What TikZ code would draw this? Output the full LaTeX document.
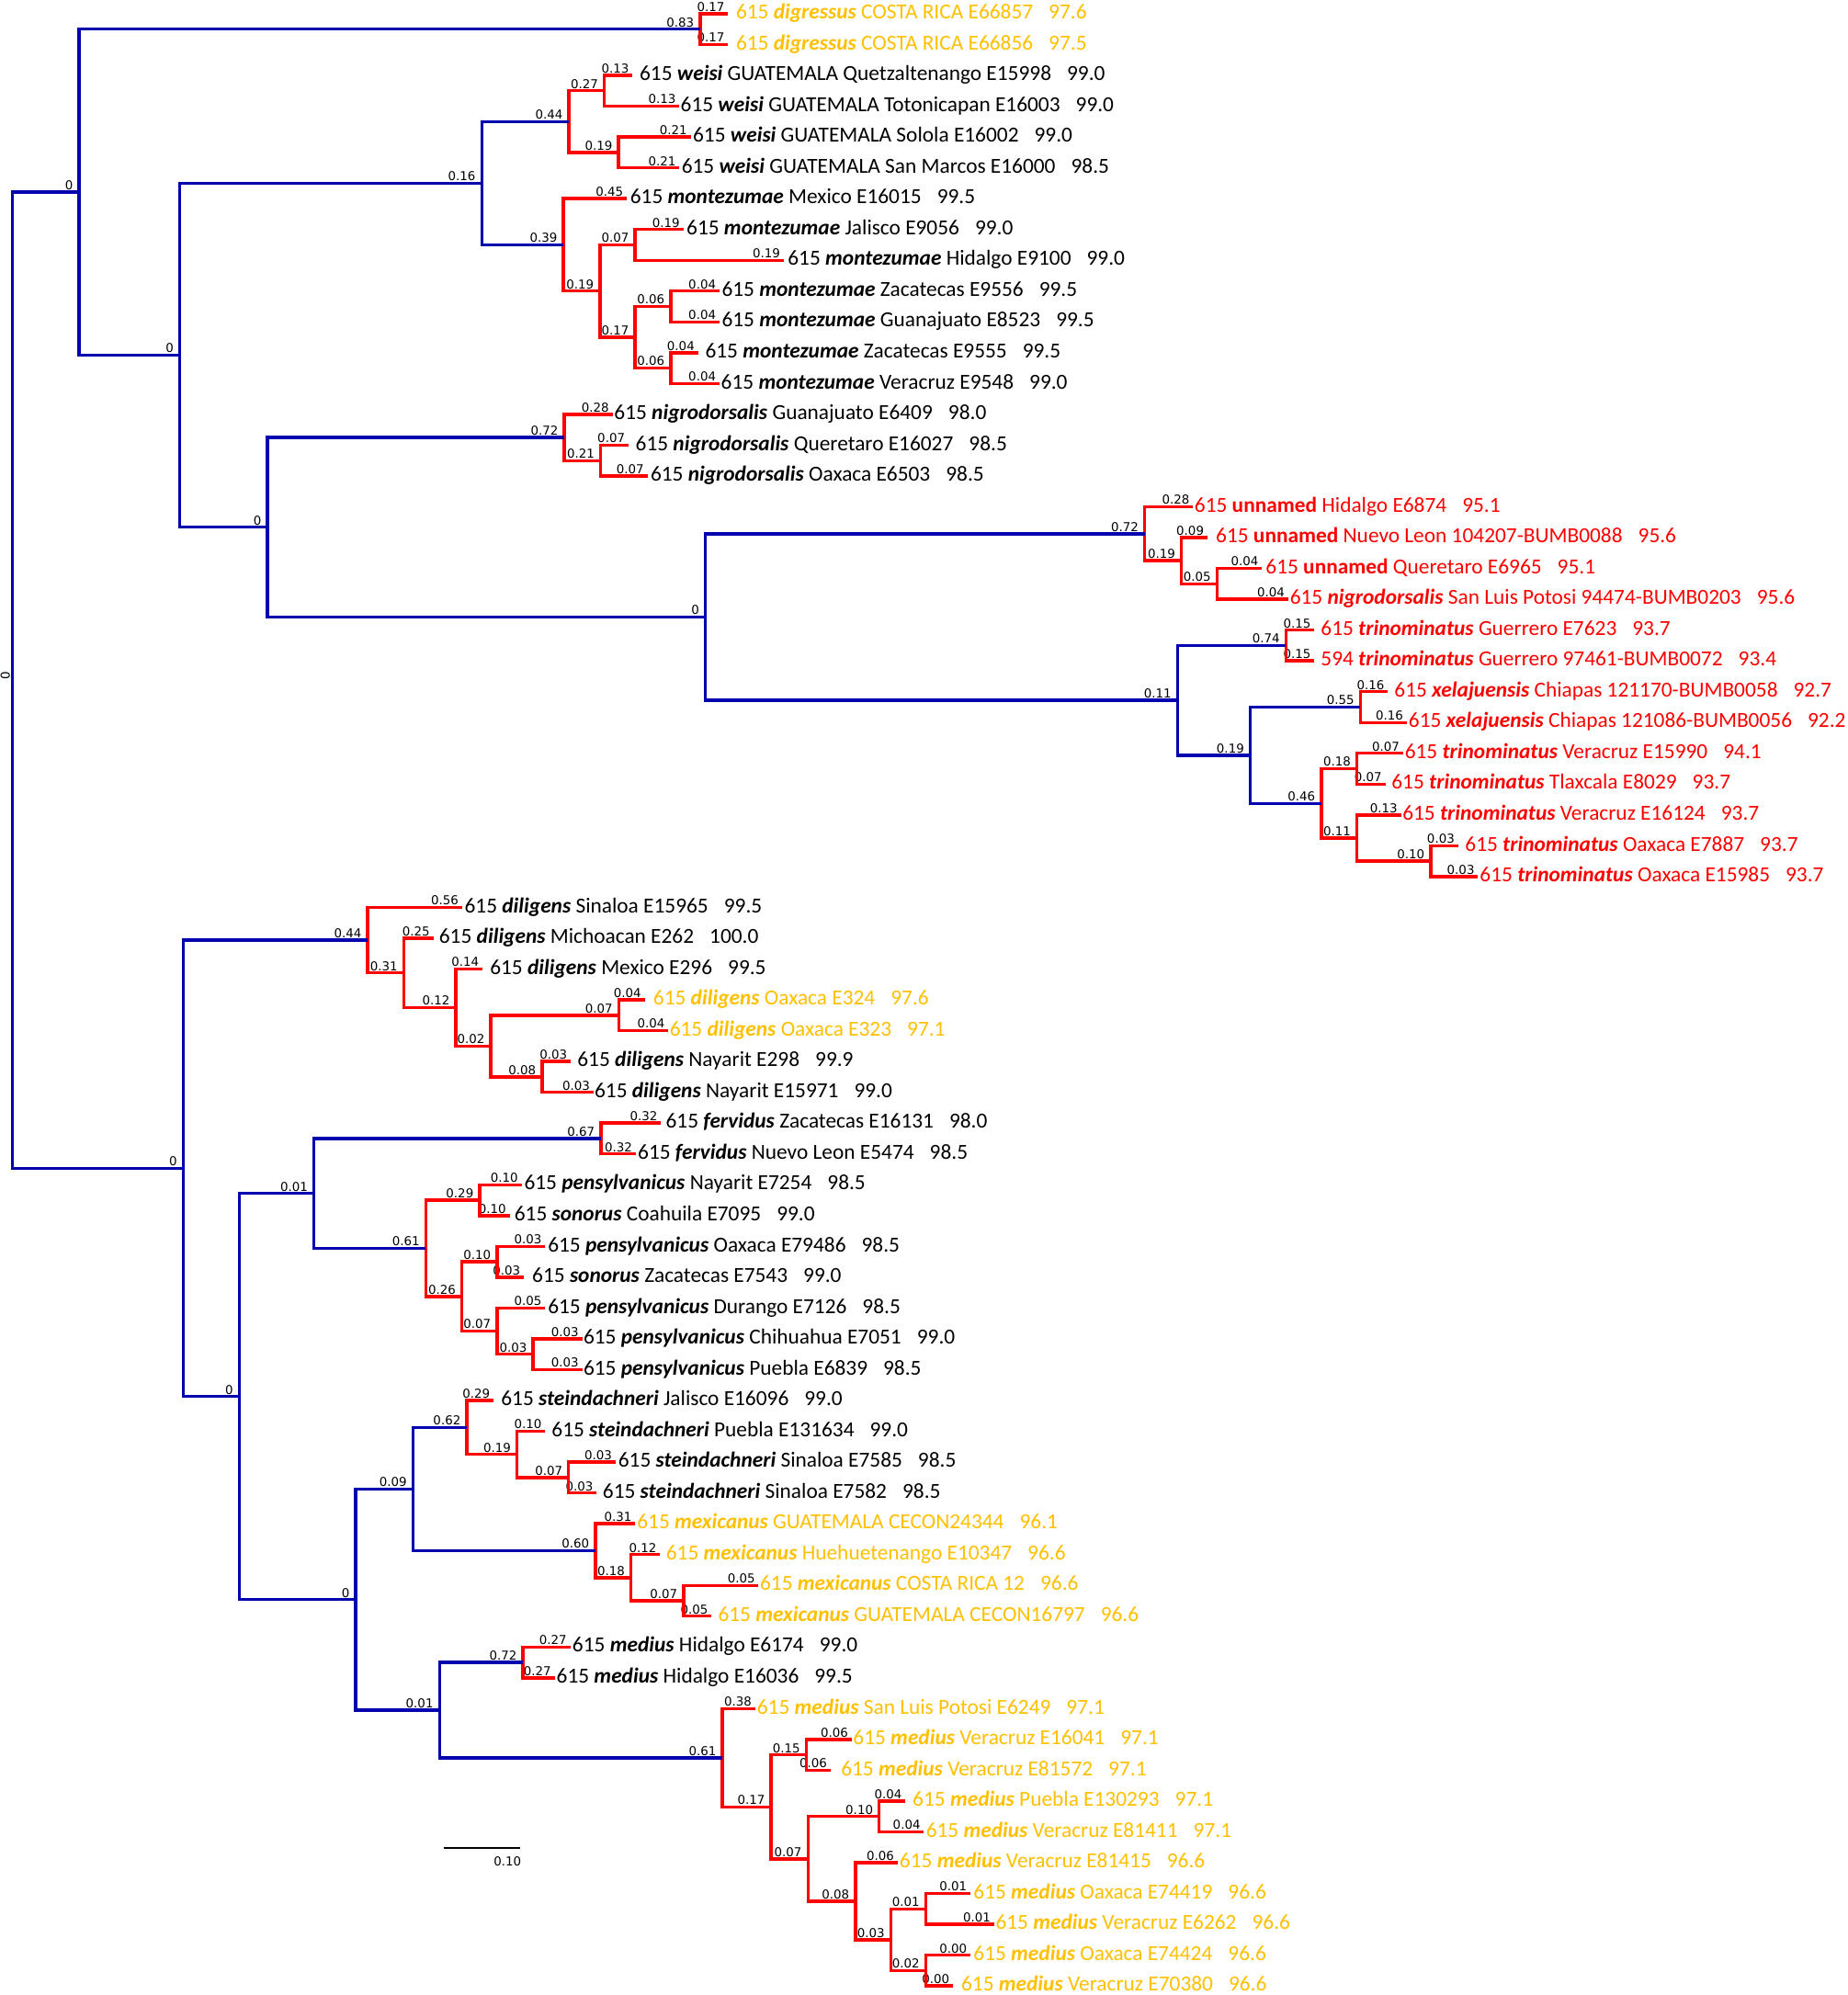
\documentclass[tikz,border=0pt]{standalone}
\usepackage{fontspec}
\setmainfont{Carlito}
\newfontfamily\labfont{DejaVu Sans}
\usetikzlibrary{calc}
\definecolor{tblue}{RGB}{0,0,175}
\definecolor{tred}{RGB}{255,0,0}
\definecolor{torange}{RGB}{255,192,0}
\newcommand\spx[1]{\textbf{\textit{#1}}}
\newcommand\leafnode[7]{%
  \pgfmathsetmacro\leafy{10.8+(#1-1)*24.22}
  \coordinate (L#1) at (#2,\leafy);
  \node[leaftxt,text=#5] (T#1) at (#3,{\leafy+4.1}) {#6\hspace{7pt}#7};
  \node[blab] (BL#1) at ({#2-2.5},{\leafy-1.4}) {#4};
}
\newcommand\innode[6]{%
  \path ($(#3)!0.5!(#4)$) coordinate (tmpm);
  \path (#2,0) coordinate (tmpx);
  \coordinate (#1) at (tmpx |- tmpm);
  \draw[br,#5] (#3) -- (#3 -| #1) -- (#4 -| #1) -- (#4);
  \node[blab] (lab#1) at ($(#1)+(-4.5,-1.4)$) {#6};
}
\begin{document}
\begin{tikzpicture}[x=0.02cm,y=-0.02cm,
  br/.style={line width=1.4pt, line join=miter, line cap=butt},
  blab/.style={font=\labfont\fontsize{5.5}{6}\selectfont, inner sep=0pt, anchor=south east, text=black},
  leaftxt/.style={font=\fontsize{9.6}{11}\selectfont, inner sep=0pt, anchor=base west}]
\useasboundingbox (0,0) rectangle (1452,1568);
\fill[white] (0,0) rectangle (1452,1568);

\leafnode{1}{572.3}{578.2}{0.17}{torange}{615 \spx{digressus} COSTA RICA E66857}{97.6}
\leafnode{2}{572.3}{578.2}{0.17}{torange}{615 \spx{digressus} COSTA RICA E66856}{97.5}
\leafnode{3}{497.1}{502.4}{0.13}{black}{615 \spx{weisi} GUATEMALA Quetzaltenango E15998}{99.0}
\leafnode{4}{534}{534.6}{0.13}{black}{615 \spx{weisi} GUATEMALA Totonicapan E16003}{99.0}
\leafnode{5}{542.8}{544.3}{0.21}{black}{615 \spx{weisi} GUATEMALA Solola E16002}{99.0}
\leafnode{6}{534}{535.4}{0.21}{black}{615 \spx{weisi} GUATEMALA San Marcos E16000}{98.5}
\leafnode{7}{492.7}{495}{0.45}{black}{615 \spx{montezumae} Mexico E16015}{99.5}
\leafnode{8}{537}{539.3}{0.19}{black}{615 \spx{montezumae} Jalisco E9056}{99.0}
\leafnode{9}{616}{618.9}{0.19}{black}{615 \spx{montezumae} Hidalgo E9100}{99.0}
\leafnode{10}{565.5}{567}{0.04}{black}{615 \spx{montezumae} Zacatecas E9556}{99.5}
\leafnode{11}{565.5}{567}{0.04}{black}{615 \spx{montezumae} Guanajuato E8523}{99.5}
\leafnode{12}{548.7}{554}{0.04}{black}{615 \spx{montezumae} Zacatecas E9555}{99.5}
\leafnode{13}{565.5}{566.4}{0.04}{black}{615 \spx{montezumae} Veracruz E9548}{99.0}
\leafnode{14}{481.5}{482.4}{0.28}{black}{615 \spx{nigrodorsalis} Guanajuato E6409}{98.0}
\leafnode{15}{494}{499.2}{0.07}{black}{615 \spx{nigrodorsalis} Queretaro E16027}{98.5}
\leafnode{16}{508.9}{511}{0.07}{black}{615 \spx{nigrodorsalis} Oaxaca E6503}{98.5}
\leafnode{17}{937.8}{938.5}{0.28}{tred}{615 \textbf{unnamed} Hidalgo E6874}{95.1}
\leafnode{18}{949}{955.3}{0.09}{tred}{615 \textbf{unnamed} Nuevo Leon 104207-BUMB0088}{95.6}
\leafnode{19}{991.9}{994.5}{0.04}{tred}{615 \textbf{unnamed} Queretaro E6965}{95.1}
\leafnode{20}{1012.4}{1013.5}{0.04}{tred}{615 \spx{nigrodorsalis} San Luis Potosi 94474-BUMB0203}{95.6}
\leafnode{21}{1033}{1037.8}{0.15}{tred}{615 \spx{trinominatus} Guerrero E7623}{93.7}
\leafnode{22}{1033}{1037.8}{0.15}{tred}{594 \spx{trinominatus} Guerrero 97461-BUMB0072}{93.4}
\leafnode{23}{1090.8}{1095.6}{0.16}{tred}{615 \spx{xelajuensis} Chiapas 121170-BUMB0058}{92.7}
\leafnode{24}{1105.7}{1106.8}{0.16}{tred}{615 \spx{xelajuensis} Chiapas 121086-BUMB0056}{92.2}
\leafnode{25}{1102.7}{1103.8}{0.07}{tred}{615 \spx{trinominatus} Veracruz E15990}{94.1}
\leafnode{26}{1088.9}{1093.4}{0.07}{tred}{615 \spx{trinominatus} Tlaxcala E8029}{93.7}
\leafnode{27}{1101.2}{1102}{0.13}{tred}{615 \spx{trinominatus} Veracruz E16124}{93.7}
\leafnode{28}{1146}{1151.2}{0.03}{tred}{615 \spx{trinominatus} Oaxaca E7887}{93.7}
\leafnode{29}{1161.7}{1162.8}{0.03}{tred}{615 \spx{trinominatus} Oaxaca E15985}{93.7}
\leafnode{30}{363.2}{364.8}{0.56}{black}{615 \spx{diligens} Sinaloa E15965}{99.5}
\leafnode{31}{340.6}{344.8}{0.25}{black}{615 \spx{diligens} Michoacan E262}{100.0}
\leafnode{32}{379.3}{384.8}{0.14}{black}{615 \spx{diligens} Mexico E296}{99.5}
\leafnode{33}{506.7}{513.1}{0.04}{torange}{615 \spx{diligens} Oaxaca E324}{97.6}
\leafnode{34}{525.4}{526}{0.04}{torange}{615 \spx{diligens} Oaxaca E323}{97.1}
\leafnode{35}{448.6}{453.5}{0.03}{black}{615 \spx{diligens} Nayarit E298}{99.9}
\leafnode{36}{466.4}{467}{0.03}{black}{615 \spx{diligens} Nayarit E15971}{99.0}
\leafnode{37}{519.6}{523}{0.32}{black}{615 \spx{fervidus} Zacatecas E16131}{98.0}
\leafnode{38}{499.6}{501}{0.32}{black}{615 \spx{fervidus} Nuevo Leon E5474}{98.5}
\leafnode{39}{410}{411.7}{0.10}{black}{615 \spx{pensylvanicus} Nayarit E7254}{98.5}
\leafnode{40}{400.5}{404}{0.10}{black}{615 \spx{sonorus} Coahuila E7095}{99.0}
\leafnode{41}{428.5}{430.3}{0.03}{black}{615 \spx{pensylvanicus} Oaxaca E79486}{98.5}
\leafnode{42}{411.7}{418}{0.03}{black}{615 \spx{sonorus} Zacatecas E7543}{99.0}
\leafnode{43}{428.5}{430.3}{0.05}{black}{615 \spx{pensylvanicus} Durango E7126}{98.5}
\leafnode{44}{457.6}{458.3}{0.03}{black}{615 \spx{pensylvanicus} Chihuahua E7051}{99.0}
\leafnode{45}{457.6}{458.3}{0.03}{black}{615 \spx{pensylvanicus} Puebla E6839}{98.5}
\leafnode{46}{387.9}{393.5}{0.29}{black}{615 \spx{steindachneri} Jalisco E16096}{99.0}
\leafnode{47}{428.5}{433.3}{0.10}{black}{615 \spx{steindachneri} Puebla E131634}{99.0}
\leafnode{48}{483.8}{485.6}{0.03}{black}{615 \spx{steindachneri} Sinaloa E7585}{98.5}
\leafnode{49}{469}{473.4}{0.03}{black}{615 \spx{steindachneri} Sinaloa E7582}{98.5}
\leafnode{50}{499.3}{500.4}{0.31}{torange}{615 \spx{mexicanus} GUATEMALA CECON24344}{96.1}
\leafnode{51}{518.8}{523.2}{0.12}{torange}{615 \spx{mexicanus} Huehuetenango E10347}{96.6}
\leafnode{52}{596.2}{597}{0.05}{torange}{615 \spx{mexicanus} COSTA RICA 12}{96.6}
\leafnode{53}{559.3}{564.1}{0.05}{torange}{615 \spx{mexicanus} GUATEMALA CECON16797}{96.6}
\leafnode{54}{448.3}{449.6}{0.27}{black}{615 \spx{medius} Hidalgo E6174}{99.0}
\leafnode{55}{435.9}{437.1}{0.27}{black}{615 \spx{medius} Hidalgo E16036}{99.5}
\leafnode{56}{593.5}{594.7}{0.38}{torange}{615 \spx{medius} San Luis Potosi E6249}{97.1}
\leafnode{57}{669.4}{670.2}{0.06}{torange}{615 \spx{medius} Veracruz E16041}{97.1}
\leafnode{58}{652.8}{660.7}{0.06}{torange}{615 \spx{medius} Veracruz E81572}{97.1}
\leafnode{59}{711.7}{717}{0.04}{torange}{615 \spx{medius} Puebla E130293}{97.1}
\leafnode{60}{726.2}{727.5}{0.04}{torange}{615 \spx{medius} Veracruz E81411}{97.1}
\leafnode{61}{705.5}{706.7}{0.06}{torange}{615 \spx{medius} Veracruz E81415}{96.6}
\leafnode{62}{762.7}{764.8}{0.01}{torange}{615 \spx{medius} Oaxaca E74419}{96.6}
\leafnode{63}{781.4}{782.2}{0.01}{torange}{615 \spx{medius} Veracruz E6262}{96.6}
\leafnode{64}{762.7}{764.8}{0.00}{torange}{615 \spx{medius} Oaxaca E74424}{96.6}
\leafnode{65}{749}{755.2}{0.00}{torange}{615 \spx{medius} Veracruz E70380}{96.6}

\innode{Dig}{550.2}{L1}{L2}{tred}{0.83}
\innode{W1}{475.0}{L3}{L4}{tred}{0.27}
\innode{W2}{486.2}{L5}{L6}{tred}{0.19}
\innode{W}{447.1}{W1}{W2}{tred}{0.44}
\innode{M2}{499.2}{L8}{L9}{tred}{0.07}
\innode{M4}{527.2}{L10}{L11}{tred}{0.06}
\innode{M5}{527.2}{L12}{L13}{tred}{0.06}
\innode{M3}{499.2}{M4}{M5}{tred}{0.17}
\innode{M1}{471.5}{M2}{M3}{tred}{0.19}
\innode{M}{442.8}{L7}{M1}{tred}{0.39}
\innode{WM}{378.6}{W}{M}{tblue}{0.16}
\innode{Nn1}{472.1}{L15}{L16}{tred}{0.21}
\innode{Nn}{443.5}{L14}{Nn1}{tred}{0.72}
\innode{U2}{956.5}{L19}{L20}{tred}{0.05}
\innode{U1}{928.5}{L18}{U2}{tred}{0.19}
\innode{U}{899.7}{L17}{U1}{tred}{0.72}
\innode{T1}{1010.6}{L21}{L22}{tred}{0.74}
\innode{T3}{1069.1}{L23}{L24}{tred}{0.55}
\innode{T5}{1066.5}{L25}{L26}{tred}{0.18}
\innode{T7}{1124.4}{L28}{L29}{tred}{0.10}
\innode{T6}{1066.5}{L27}{T7}{tred}{0.11}
\innode{T4}{1038.5}{T5}{T6}{tred}{0.46}
\innode{T2}{982.6}{T3}{T4}{tblue}{0.19}
\innode{T}{925.5}{T1}{T2}{tblue}{0.11}
\innode{X}{554.4}{U}{T}{tblue}{0}
\innode{NB}{210.2}{Nn}{X}{tblue}{0}
\innode{N3}{141.2}{WM}{NB}{tblue}{0}
\innode{N1}{62.1}{Dig}{N3}{tblue}{0}
\innode{D5}{426}{L35}{L36}{tred}{0.08}
\innode{D4}{486.4}{L33}{L34}{tred}{0.07}
\innode{D3}{385.8}{D4}{D5}{tred}{0.02}
\innode{D2}{358.3}{L32}{D3}{tred}{0.12}
\innode{D1}{317.4}{L31}{D2}{tred}{0.31}
\innode{D}{289}{L30}{D1}{tred}{0.44}
\innode{F1}{472.3}{L37}{L38}{tred}{0.67}
\innode{P1}{377}{L39}{L40}{tred}{0.29}
\innode{P3}{390.7}{L41}{L42}{tred}{0.10}
\innode{P5}{419}{L44}{L45}{tred}{0.03}
\innode{P4}{390.7}{L43}{P5}{tred}{0.07}
\innode{P2}{363}{P3}{P4}{tred}{0.26}
\innode{P}{334.7}{P1}{P2}{tred}{0.61}
\innode{F}{246.7}{F1}{P}{tblue}{0.01}
\innode{S2}{446.9}{L48}{L49}{tred}{0.07}
\innode{S1}{406.4}{L47}{S2}{tred}{0.19}
\innode{S}{366.9}{L46}{S1}{tred}{0.62}
\innode{X4}{537.2}{L52}{L53}{tred}{0.07}
\innode{X3}{495.9}{L51}{X4}{tred}{0.18}
\innode{X2}{467.9}{L50}{X3}{tred}{0.60}
\innode{SM}{324.5}{S}{X2}{tblue}{0.09}
\innode{Hm}{411}{L54}{L55}{tred}{0.72}
\innode{Me8}{727.5}{L64}{L65}{tred}{0.02}
\innode{Me7}{727.5}{L62}{L63}{tred}{0.01}
\innode{Me6}{700.1}{Me7}{Me8}{tred}{0.03}
\innode{Me5}{672.3}{L61}{Me6}{tred}{0.08}
\innode{Me4}{691}{L59}{L60}{tred}{0.10}
\innode{Me3}{635}{Me4}{Me5}{tred}{0.07}
\innode{Me2}{633.7}{L57}{L58}{tred}{0.15}
\innode{Me1}{606}{Me2}{Me3}{tred}{0.17}
\innode{Me}{567.8}{L56}{Me1}{tred}{0.61}
\innode{MM}{345.4}{Hm}{Me}{tblue}{0.01}
\innode{B2}{279.5}{SM}{MM}{tblue}{0}
\innode{B1}{188}{F}{B2}{tblue}{0}
\innode{N2}{144}{D}{B1}{tblue}{0}

% root
\path ($(N1)!0.5!(N2)$) coordinate (tmpm);
\path (9.6,0) coordinate (tmpx);
\coordinate (Root) at (tmpx |- tmpm);
\draw[br,tblue] (N1) -- (N1 -| Root) -- (N2 -| Root) -- (N2);
\node[blab, anchor=center, rotate=90] (labRoot) at ($(Root)+(-5.5,-3.5)$) {0};

% scale bar
\coordinate (sb1) at (348.8,1452.5);
\coordinate (sb2) at (408.9,1452.5);
\draw[line width=0.6pt, black] (sb1) -- (sb2);
\node[blab, anchor=north east] (sbl) at ($(sb2)+(1,6.5)$) {0.10};
\end{tikzpicture}
\end{document}
